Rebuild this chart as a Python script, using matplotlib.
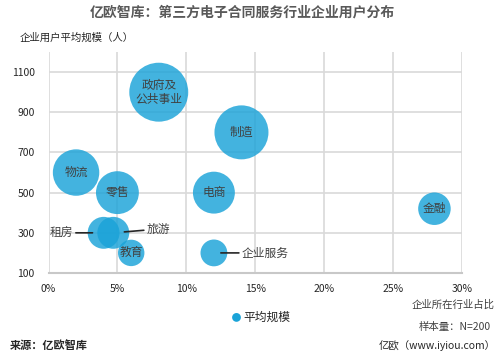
import matplotlib
matplotlib.use('Agg')
import matplotlib.pyplot as plt
from matplotlib.ticker import FuncFormatter

plt.rcParams['font.family'] = ['Noto Sans CJK SC', 'DejaVu Sans']

# 数据：行业、占比(%)、平均规模(人)、气泡大小
industries = ['政府及\n公共事业', '制造', '物流', '零售', '电商', '金融', '租房', '旅游', '教育', '企业服务']
share = [8, 14, 2, 5, 12, 28, 4, 4.7, 6, 12]
avg_size = [1000, 800, 600, 500, 500, 420, 300, 300, 200, 200]
bubble = [870, 730, 540, 460, 440, 265, 255, 255, 175, 180]

y_ticks = [100, 300, 500, 700, 900, 1100]
x_ticks = [0, 5, 10, 15, 20, 25, 30]

# labels outside bubbles: (offset x pt, offset y pt, ha, shrink pt)
outside = {'租房': (-22, 0, 'right', 8), '旅游': (24, 2, 'left', 8), '企业服务': (20, 0, 'left', 5)}

txt = '#404040'
blue = '#1AA3D8'

fig = plt.figure(figsize=(5, 3.57), dpi=100)
ax = fig.add_axes([0.097, 0.2353, 0.827, 0.619])

ax.scatter(share, avg_size, s=[b * 2.07 for b in bubble], color=blue, alpha=0.82,
           edgecolors='none', zorder=3, label='平均规模')

for name, x, y in zip(industries, share, avg_size):
    if name in outside:
        dx, dy, ha, shr = outside[name]
        ax.annotate(name, xy=(x, y), xytext=(dx, dy), textcoords='offset points',
                    ha=ha, va='center', fontsize=8.5, color=txt, zorder=5,
                    arrowprops=dict(arrowstyle='-', color='#262626', lw=1.2,
                                    shrinkA=0, shrinkB=shr,
                                    relpos=(1 if ha == 'right' else 0, 0.5)))
    else:
        ax.text(x, y, name, ha='center', va='center', fontsize=8.5, color=txt,
                zorder=5, linespacing=1.1)

ax.set_xlim(0, 30)
ax.set_ylim(100, 1200)
ax.set_xticks(x_ticks)
ax.set_yticks(y_ticks)
ax.xaxis.set_major_formatter(FuncFormatter(lambda v, p: f'{v:.0f}%'))
ax.tick_params(length=0, labelsize=7.5, labelcolor='#262626', pad=8)
ax.tick_params(axis='y', pad=10)
ax.grid(True, color='#d9d9d9', lw=1.2, zorder=0)
ax.set_axisbelow(True)
for side in ['top', 'right', 'left']:
    ax.spines[side].set_visible(False)
ax.spines['bottom'].set_color('#c8c8c8')
ax.spines['bottom'].set_linewidth(1.5)

fig.text(0.484, 0.966, '亿欧智库：第三方电子合同服务行业企业用户分布', ha='center', va='center',
         fontsize=10, fontweight='bold', color='#595959')
fig.text(0.04, 0.896, '企业用户平均规模（人）', ha='left', va='center', fontsize=7.5, color='#262626')
fig.text(0.99, 0.146, '企业所在行业占比', ha='right', va='center', fontsize=7.5, color='#404040')
fig.text(0.982, 0.084, '样本量：N=200', ha='right', va='center', fontsize=7.5, color='#404040')
fig.text(0.992, 0.031, '亿欧（www.iyiou.com）', ha='right', va='center', fontsize=7.5, color='#262626')
fig.text(0.02, 0.033, '来源：亿欧智库', ha='left', va='center', fontsize=8, fontweight='bold',
         color='#262626')

handles, labels = ax.get_legend_handles_labels()
leg = fig.legend(handles, labels, loc='center', bbox_to_anchor=(0.52, 0.112), frameon=False,
                 fontsize=8.5, handletextpad=0.0, handlelength=1.2, markerscale=1)
leg.legend_handles[0].set_sizes([40])
leg.legend_handles[0].set_alpha(1)
for t in leg.get_texts():
    t.set_color('#262626')

fig.savefig('out.png', dpi=100)
